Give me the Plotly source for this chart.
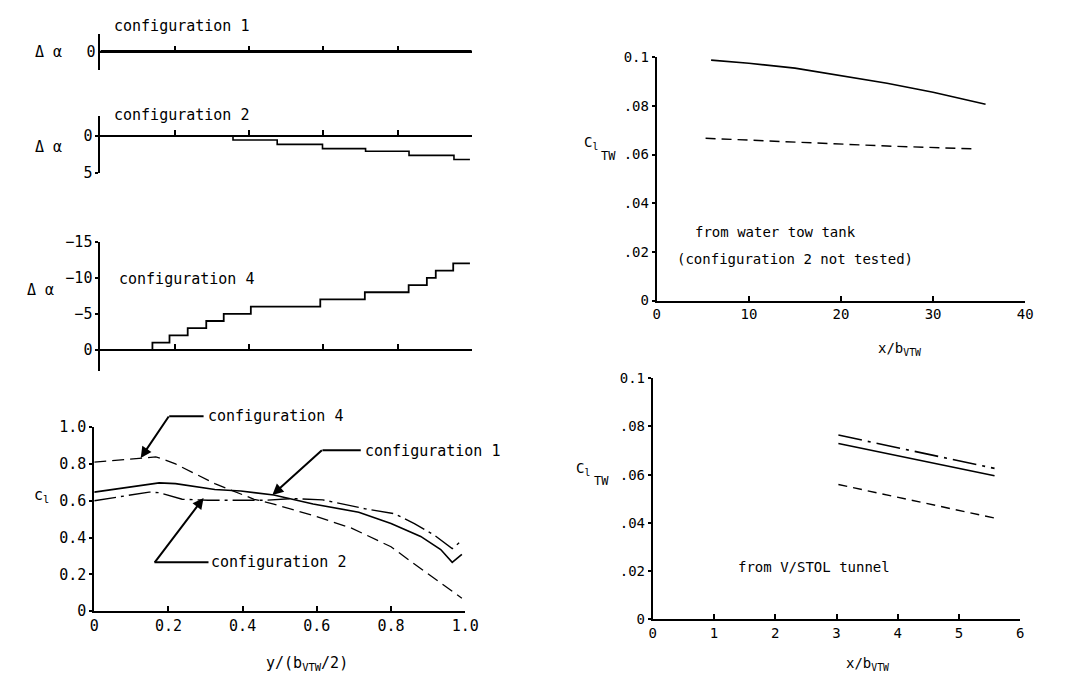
import plotly.graph_objects as go

# page body margin offsets the figure by 8 px; target positions are page pixels
OX, OY = 8, 8
FW, FH = 1080, 680
FONT = "DejaVu Sans Mono"

# ---------------- data ----------------
# spanwise twist increment distributions (delta alpha, deg) vs y/(b/2)
span_c1 = [0.0, 1.0]
dalpha_c1 = [0.0, 0.0]

span_c2 = [0.0, 0.357, 0.476, 0.598, 0.714, 0.831, 0.952, 0.995]
dalpha_c2 = [0.0, 0.57, 1.17, 1.74, 2.09, 2.65, 3.2, 3.2]

span_c4 = [0.0, 0.140, 0.186, 0.235, 0.285, 0.332, 0.405, 0.592, 0.712, 0.830, 0.879, 0.903, 0.950, 0.995]
dalpha_c4 = [0, -1, -2, -3, -4, -5, -6, -7, -8, -9, -10, -11, -12, -12]

# section lift coefficient c_l vs y/(b_VTW/2)
eta_cfg1 = [0.0, 0.175, 0.219, 0.325, 0.395, 0.484, 0.59, 0.713, 0.80, 0.88, 0.934, 0.965, 0.991]
cl_cfg1 = [0.647, 0.697, 0.693, 0.661, 0.653, 0.631, 0.582, 0.538, 0.476, 0.406, 0.335, 0.265, 0.309]

eta_cfg2 = [0.0, 0.148, 0.175, 0.237, 0.307, 0.466, 0.537, 0.616, 0.731, 0.81, 0.863, 0.916, 0.965, 0.991]
cl_cfg2 = [0.60, 0.647, 0.644, 0.608, 0.603, 0.603, 0.612, 0.605, 0.556, 0.529, 0.476, 0.414, 0.34, 0.384]

eta_cfg4 = [0.0, 0.166, 0.18, 0.219, 0.325, 0.431, 0.484, 0.59, 0.695, 0.80, 0.863, 0.925, 0.991]
cl_cfg4 = [0.81, 0.838, 0.83, 0.80, 0.693, 0.608, 0.582, 0.52, 0.45, 0.35, 0.256, 0.168, 0.07]

# C_l_TW from water tow tank vs x/b_VTW
xb_tow_cfg1 = [5.9, 10, 15, 20.2, 25, 30, 35.7]
clt_tow_cfg1 = [0.0988, 0.0975, 0.0955, 0.0924, 0.0893, 0.0856, 0.0807]
xb_tow_cfg4 = [5.3, 15, 25, 34.8]
clt_tow_cfg4 = [0.0667, 0.065, 0.0635, 0.0623]

# C_l_TW from V/STOL tunnel vs x/b_VTW
xb_vstol = [3.03, 5.58]
clt_vstol_cfg1 = [0.0729, 0.0595]
clt_vstol_cfg2 = [0.0764, 0.0626]
clt_vstol_cfg4 = [0.0559, 0.042]

cl_ticks = [0, 0.2, 0.4, 0.6, 0.8, 1.0]
cl_ticktext = ["0", "0.2", "0.4", "0.6", "0.8", "1.0"]
clt_ticks = [0, 0.02, 0.04, 0.06, 0.08, 0.1]
clt_ticktext = ["0", ".02", ".04", ".06", ".08", "0.1"]

# ---------------- helpers ----------------
def px(x):
    return (x - OX) / FW

def py(y):
    return 1 - (y - OY) / FH

tickfont_l = dict(family=FONT, size=15, color="black")
tickfont_r = dict(family=FONT, size=14, color="black")
base = dict(showgrid=False, zeroline=False, showline=True, linecolor="black",
            linewidth=2, tickcolor="black", tickwidth=2, tickfont=tickfont_l,
            fixedrange=True)
base_r = dict(base, tickfont=tickfont_r)

fig = go.Figure()

def line(x, y, xa, ya, dash="solid", width=1.8, shape="linear"):
    fig.add_trace(go.Scatter(x=x, y=y, xaxis=xa, yaxis=ya, mode="lines",
                             line=dict(color="black", width=width, dash=dash, shape=shape),
                             showlegend=False, hoverinfo="skip"))

line(span_c1, dalpha_c1, "x", "y", width=3)
line(span_c2, dalpha_c2, "x2", "y2", shape="hv", width=1.6)
line(span_c4, dalpha_c4, "x3", "y3", shape="hv", width=1.8)

line(eta_cfg1, cl_cfg1, "x4", "y4", width=1.6)
line(eta_cfg2, cl_cfg2, "x4", "y4", dash="22px,5px,3px,5px", width=1.4)
line(eta_cfg4, cl_cfg4, "x4", "y4", dash="12px,6px", width=1.3)

line(xb_tow_cfg1, clt_tow_cfg1, "x5", "y5", width=1.6)
line(xb_tow_cfg4, clt_tow_cfg4, "x5", "y5", dash="10px,6px", width=1.4)

line(xb_vstol, clt_vstol_cfg1, "x6", "y6", width=1.6)
line(xb_vstol, clt_vstol_cfg2, "x6", "y6", dash="24px,6px,3px,6px", width=1.6)
line(xb_vstol, clt_vstol_cfg4, "x6", "y6", dash="9px,6px", width=1.4)

top_x = dict(base, range=[0, 1], anchor="free", tickvals=[0.2, 0.4, 0.6, 0.8, 1.0],
             showticklabels=False, ticks="inside", ticklen=5,
             domain=[px(97), px(475)])

layout = dict(
    width=FW, height=FH, margin=dict(l=0, r=0, t=0, b=0),
    paper_bgcolor="white", plot_bgcolor="rgba(0,0,0,0)", showlegend=False,
    xaxis=dict(top_x, position=py(43.5)),
    yaxis=dict(base, domain=[py(62), py(25)], range=[-1, 1], anchor="x",
               tickvals=[0], ticktext=["0"], ticks=""),
    xaxis2=dict(top_x, position=py(130)),
    yaxis2=dict(base, domain=[py(168), py(110)], range=[5, -2.63], anchor="x2",
                tickvals=[0, 5], ticks="outside", ticklen=3),
    xaxis3=dict(top_x, position=py(349.8)),
    yaxis3=dict(base, domain=[py(372), py(239)], range=[3, -15], anchor="x3",
                tickvals=[-15, -10, -5, 0], ticks="outside", ticklen=3),
    xaxis4=dict(base, domain=[px(90.7), px(468.3)], range=[0, 1], anchor="y4",
                tickvals=cl_ticks, ticktext=cl_ticktext, ticks="inside", ticklen=5),
    yaxis4=dict(base, domain=[py(618.3), py(429.3)], range=[0, 1], anchor="x4",
                tickvals=cl_ticks, ticktext=cl_ticktext, ticks="outside", ticklen=3),
    xaxis5=dict(base_r, domain=[px(663.3), px(1038.3)], range=[0, 40], anchor="y5",
                tickvals=[0, 10, 20, 30, 40], ticks="inside", ticklen=5),
    yaxis5=dict(base_r, domain=[py(299.3), py(49.3)], range=[0, 0.1], anchor="x5",
                tickvals=clt_ticks, ticktext=clt_ticktext, ticks="outside", ticklen=3),
    xaxis6=dict(base_r, domain=[px(659.3), px(1033.3)], range=[0, 6], anchor="y6",
                tickvals=[0, 1, 2, 3, 4, 5, 6], ticks="inside", ticklen=5),
    yaxis6=dict(base_r, domain=[py(626.7), py(379)], range=[0, 0.1], anchor="x6",
                tickvals=clt_ticks, ticktext=clt_ticktext, ticks="outside", ticklen=3),
)
fig.update_layout(**layout)

annotations = []

def text(t, x, y, size=15, xanchor="left"):
    annotations.append(dict(text=t, x=px(x), y=py(y), xref="paper", yref="paper",
                            xanchor=xanchor, yanchor="middle", showarrow=False,
                            font=dict(family=FONT, size=size, color="black")))

text("configuration 1", 109, 17)
text("configuration 2", 109, 109)
text("configuration 4", 114, 277)
text("Δ α", 44, 44, xanchor="center")
text("Δ α", 44, 142, xanchor="center")
text("Δ α", 36, 288, xanchor="center")

text("configuration 4", 204, 418)
text("configuration 1", 364, 454)
text("configuration 2", 208, 568)
text("c<sub>l</sub>", 27, 500)
text("y/(b<sub>VTW</sub>/2)", 307, 672, xanchor="center")

text("from water tow tank", 700, 229, size=14)
text("(configuration 2 not tested)", 682, 257, size=14)
text("C<sub>l</sub>", 587, 137, size=14)
text("TW", 605, 151, size=12)
text("x/b<sub>VTW</sub>", 910, 349, size=14, xanchor="center")

text("from V/STOL tunnel", 744, 573, size=14)
text("C<sub>l</sub>", 579, 472, size=14)
text("TW", 597, 485, size=12)
text("x/b<sub>VTW</sub>", 878, 673, size=14, xanchor="center")

# leader arrows for the c_l panel
def arrow(tail, tip):
    annotations.append(dict(text="", x=px(tip[0]), y=py(tip[1]), xref="paper", yref="paper",
                            ax=tail[0] - tip[0], ay=tail[1] - tip[1], showarrow=True,
                            arrowhead=2, arrowsize=1.1, arrowwidth=2, arrowcolor="black"))

arrow((167, 418), (138, 461))
arrow((323, 453), (272, 499))
arrow((152, 568), (202, 502))

shapes = []
for x0, x1, yy in [(167, 202, 418), (323, 362, 453), (152, 207, 568)]:
    shapes.append(dict(type="line", xref="paper", yref="paper",
                       x0=px(x0), x1=px(x1), y0=py(yy), y1=py(yy),
                       line=dict(color="black", width=2)))

fig.update_layout(annotations=annotations, shapes=shapes)
fig.write_html("out.html")
